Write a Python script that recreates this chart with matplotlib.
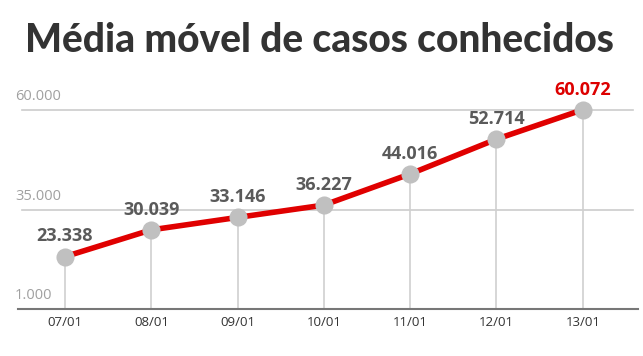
import matplotlib.pyplot as plt

datas = ['07/01', '08/01', '09/01', '10/01', '11/01', '12/01', '13/01']
casos = [23338, 30039, 33146, 36227, 44016, 52714, 60072]
rotulos = ['23.338', '30.039', '33.146', '36.227', '44.016', '52.714', '60.072']
yticks = [10250, 35000, 60000]
ytick_labels = ['1.000', '35.000', '60.000']

fig = plt.figure(figsize=(6.43, 3.56), dpi=100)
ax = fig.add_axes([18/643, (356-309)/356, 620/643, 249/356])
x = list(range(len(datas)))

ax.set_xlim(-0.545, 6.64)
ax.set_ylim(10250, 72500)

# grid horizontal
for v in yticks[1:]:
    ax.plot([-0.5, 6.58], [v, v], color='#cccccc', lw=1.2, zorder=1)

# linhas verticais
for xi, v in zip(x, casos):
    ax.plot([xi, xi], [10250, v], color='#d0d0d0', lw=1.2, zorder=1)

ax.plot(x, casos, color='#e00000', lw=4, zorder=2, solid_capstyle='round')
ax.scatter(x, casos, s=170, color='#c0c0c0', zorder=3, linewidths=0)

for i, (xi, v, r) in enumerate(zip(x, casos, rotulos)):
    cor = '#dd0000' if i == len(x) - 1 else '#5a5a5a'
    ax.text(xi, v + 2800, r, ha='center', va='bottom', fontsize=13,
            fontweight='bold', color=cor, family='Open Sans')

for v, lab in zip(yticks, ytick_labels):
    ax.text(-0.58, v + 1500, lab, ha='left', va='bottom', fontsize=10.5,
            color='#a0a0a0', family='Open Sans')

for s in ['top', 'right', 'left']:
    ax.spines[s].set_visible(False)
ax.spines['bottom'].set_color('#777777')
ax.spines['bottom'].set_linewidth(1.5)
ax.set_yticks([])
ax.set_xticks(x)
ax.set_xticklabels(datas, fontsize=9.5, color='#333333', family='Open Sans')
ax.tick_params(axis='x', length=0, pad=5)

fig.text(0.497, 0.885, 'Média móvel de casos conhecidos', ha='center', va='center',
         fontsize=28, fontweight=900, color='#333333', family='Lato')

fig.savefig('out.png', dpi=100)
